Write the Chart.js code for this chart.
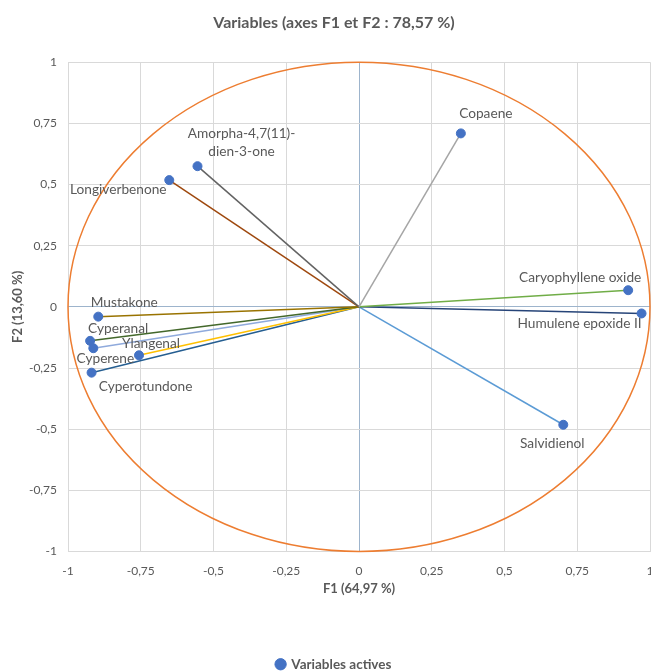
<!DOCTYPE html>
<html>
<head>
<meta charset="utf-8">
<script src="https://cdn.jsdelivr.net/npm/chart.js@4.4.0/dist/chart.umd.min.js"></script>
<style>
  html, body { margin: 0; padding: 0; background: #fff; }
  #wrap { width: 651px; height: 671px; }
</style>
</head>
<body>
<div id="wrap"><canvas id="chart" width="651" height="671"></canvas></div>
<script>
// Variable names (F1 / F2 coordinates)
const names = [
	'Copaene',
	'Amorpha-4,7(11)-\ndien-3-one',
	'Longiverbenone',
	'Caryophyllene oxide',
	'Humulene epoxide II',
	'Salvidienol',
	'Mustakone',
	'Cyperanal',
	'Ylangenal',
	'Cyperene',
	'Cyperotundone',
];
const f1 = [0.35, -0.555, -0.652, 0.925, 0.971, 0.702, -0.896, -0.924, -0.756, -0.913, -0.919];
const f2 = [0.709, 0.575, 0.518, 0.068, -0.027, -0.482, -0.04, -0.139, -0.198, -0.169, -0.269];
const axisTicks = [-1, -0.75, -0.5, -0.25, 0, 0.25, 0.5, 0.75, 1];

// Styles for each vector line
const lineColors = [
	'#A5A5A5', '#636363', '#9E480E', '#70AD47', '#264478', '#5B9BD5',
	'#997300', '#43682B', '#FFC000', '#8FAADC', '#255E91',
];
// Label offset from its point, in pixels (center of text)
const labelOffsets = [
	[25, -20], [44, -33], [-51, 9], [-48, -13], [-62, 10], [-11, 19],
	[26, -14], [28, -12], [12, -12], [12, 10], [54, 14],
];

const FONT = 'Lato, "Open Sans", sans-serif';
const TEXT = '#595959';

// Vector lines from the origin
const vectorSets = names.map((n, i) => ({
	type: 'line',
	label: n,
	data: [{ x: 0, y: 0 }, { x: f1[i], y: f2[i] }],
	borderColor: lineColors[i],
	borderWidth: 1.5,
	pointRadius: 0,
	fill: false,
	order: 2,
}));

// Correlation circle drawn through the scales
const circlePlugin = {
	id: 'circle',
	beforeDatasetsDraw(chart) {
		const { ctx, scales: { x, y } } = chart;
		const cx = x.getPixelForValue(0);
		const cy = y.getPixelForValue(0);
		const rx = x.getPixelForValue(1) - cx;
		const ry = cy - y.getPixelForValue(1);
		ctx.save();
		ctx.strokeStyle = '#ED7D31';
		ctx.lineWidth = 1.5;
		ctx.beginPath();
		ctx.ellipse(cx, cy, rx, ry, 0, 0, Math.PI * 2);
		ctx.stroke();
		ctx.restore();
	},
};

// Point labels
const labelPlugin = {
	id: 'pointLabels',
	afterDatasetsDraw(chart) {
		const { ctx } = chart;
		const meta = chart.getDatasetMeta(chart.data.datasets.length - 1);
		ctx.save();
		ctx.font = '13.7px ' + FONT;
		ctx.fillStyle = TEXT;
		ctx.textAlign = 'center';
		ctx.textBaseline = 'middle';
		meta.data.forEach((pt, i) => {
			const lines = names[i].split('\n');
			const [dx, dy] = labelOffsets[i];
			lines.forEach((t, j) => {
				ctx.fillText(t, pt.x + dx, pt.y + dy + j * 18);
			});
		});
		ctx.restore();
	},
};

const gridColor = (c) => (c.tick && c.tick.value === 0 ? '#9DB4CC' : '#D9D9D9');

new Chart(document.getElementById('chart'), {
	type: 'scatter',
	data: {
		datasets: [
			...vectorSets,
			{
				label: 'Variables actives',
				data: f1.map((v, i) => ({ x: v, y: f2[i] })),
				backgroundColor: '#4472C4',
				borderColor: '#4472C4',
				pointRadius: 4.5,
				pointHoverRadius: 4.5,
				order: 1,
			},
		],
	},
	options: {
		responsive: false,
		animation: false,
		layout: { autoPadding: false, padding: { left: 18, right: 1, top: 0, bottom: -10 } },
		scales: {
			x: {
				type: 'linear',
				min: -1,
				max: 1,
				afterBuildTicks: (s) => { s.ticks = axisTicks.map((v) => ({ value: v })); },
				afterFit: (s) => { s.height = 96; s.paddingLeft = 0; s.paddingRight = 0; },
				grid: { color: gridColor, drawTicks: false, lineWidth: 1 },
				border: { display: false },
				ticks: {
					padding: 12,
					color: TEXT,
					font: { family: FONT, size: 12 },
					callback: (v) => String(v).replace('.', ','),
				},
				title: {
					display: true,
					text: 'F1 (64,97 %)',
					color: TEXT,
					font: { family: FONT, size: 13, weight: 'bold' },
					padding: { bottom: 51 },
				},
			},
			y: {
				type: 'linear',
				min: -1,
				max: 1,
				afterBuildTicks: (s) => { s.ticks = axisTicks.map((v) => ({ value: v })); },
				afterFit: (s) => { s.width = 50; },
				grid: { color: gridColor, drawTicks: false, lineWidth: 1 },
				border: { display: false },
				ticks: {
					padding: 11,
					color: TEXT,
					font: { family: FONT, size: 12 },
					callback: (v) => String(v).replace('.', ','),
				},
				title: {
					display: true,
					text: 'F2 (13,60 %)',
					color: TEXT,
					font: { family: FONT, size: 13, weight: 'bold' },
					padding: { top: -8 },
				},
			},
		},
		plugins: {
			title: {
				display: true,
				text: 'Variables (axes F1 et F2 : 78,57 %)',
				color: TEXT,
				font: { family: FONT, size: 16, weight: 'bold' },
				padding: { top: 13, bottom: 30 },
			},
			legend: {
				position: 'bottom',
				labels: {
					usePointStyle: true,
					pointStyle: 'circle',
					boxWidth: 8,
					boxHeight: 8,
					color: TEXT,
					font: { family: FONT, size: 13.5, weight: 'bold' },
					filter: (item) => item.text === 'Variables actives',
				},
			},
			tooltip: { enabled: false },
		},
	},
	plugins: [circlePlugin, labelPlugin],
});
</script>
</body>
</html>
